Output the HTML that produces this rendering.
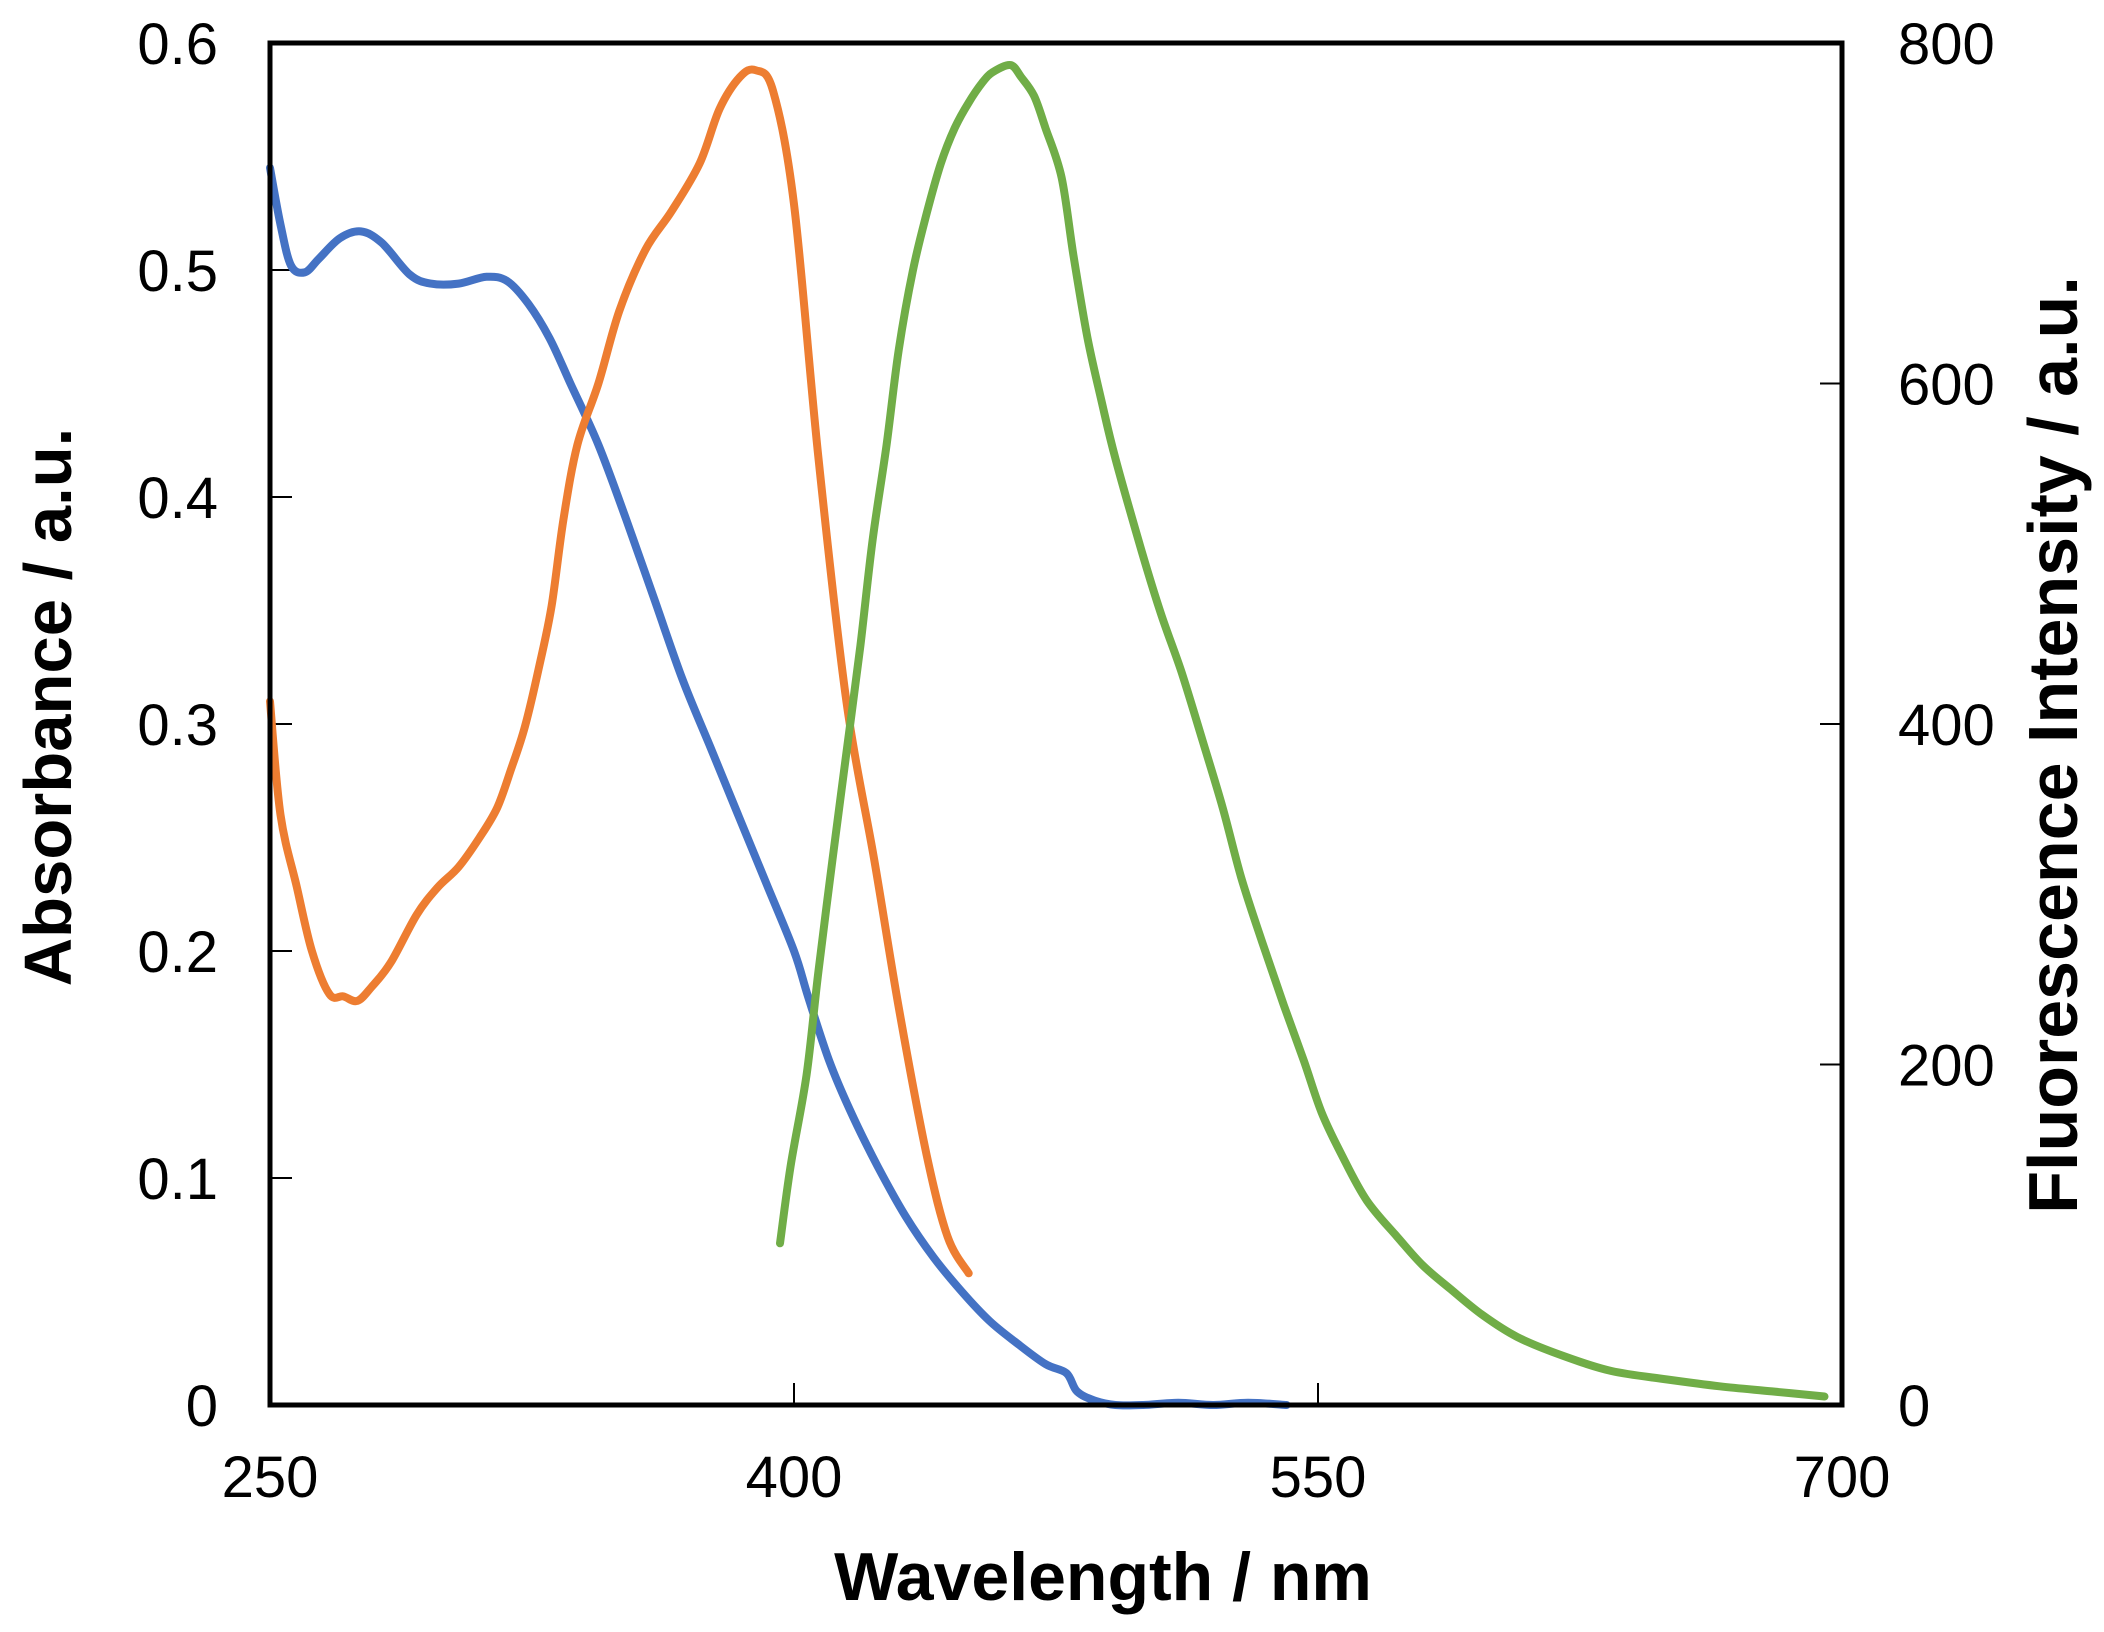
<!DOCTYPE html>
<html><head><meta charset="utf-8"><style>
html,body{margin:0;padding:0;background:#fff;}
svg{display:block;font-family:"Liberation Sans",Arial,sans-serif;}
</style></head><body>
<svg id="chart" width="2104" height="1632" viewBox="0 0 2104 1632" xmlns="http://www.w3.org/2000/svg">
<g id="ticks"></g>
<g id="series"></g>
<rect x="270" y="43" width="1572" height="1362" fill="none" stroke="#000" stroke-width="5"/>
<text x="1103" y="1600" font-size="68" font-weight="bold" text-anchor="middle">Wavelength / nm</text>
<text transform="translate(71,707) rotate(-90)" font-size="67" font-weight="bold" text-anchor="middle">Absorbance / a.u.</text>
<text transform="translate(2077,745) rotate(-90)" font-size="70" font-weight="bold" text-anchor="middle">Fluorescence Intensity / a.u.</text>
</svg>
<script>
const xTicks = [250, 400, 550, 700];
const yLeftTicks = [0, 0.1, 0.2, 0.3, 0.4, 0.5, 0.6];
const yLeftLabels = ["0", "0.1", "0.2", "0.3", "0.4", "0.5", "0.6"];
const yRightTicks = [0, 200, 400, 600, 800];
const blueX = [250,253,256,260,264,270,276,282,290,296,304,312,318,324,330,336,344,352,360,368,376,384,392,400,404,410,416,424,432,440,448,456,464,472,478,481,486,492,500,510,520,530,541];
const blueY = [.545,.52,.502,.499,.505,.514,.517,.512,.498,.494,.494,.497,.495,.485,.47,.45,.423,.39,.355,.32,.29,.26,.23,.2,.18,.152,.13,.105,.083,.065,.05,.037,.027,.018,.014,.006,.002,0,0,.001,0,.001,0];
const orangeX = [250,253,257.7,262,267,271,275,279,284.6,292,298,304,310,315,319,323,327,330.6,334,338,344,350,357.5,365,373,378.7,384.5,389,394,400,407,415,423,430,438,444,450];
const orangeY = [.31,.26,.228,.2,.181,.18,.178,.184,.195,.216,.228,.237,.25,.263,.28,.299,.325,.352,.39,.423,.45,.482,.509,.526,.547,.571,.585,.588,.579,.529,.417,.31,.24,.175,.11,.074,.058];
const greenX = [396,399,403.6,407,411,415,419,422.5,426.5,430,434,438,442,446,450,454,457,462,465,468.7,472,476.6,480,484,488,492,499.6,505,511,517,522.7,528,534,540,546,551,557,564,572.6,580,588,597,607,620,634,650,665,680,695];
const greenY = [95,140,194,255,320,383,446,508,564,620,666,700,729,750,765,777,783,787,780,769,750,721,675,627,590,556,501,465,430,390,351,310,272,236,202,172,146,120,99,82,68,53,40,29,20,15,11,8,5];
const X0=270, X1=1842, Y0=1405, Y1=43;
const xs = v => X0 + (v-250)/(700-250)*(X1-X0);
const yl = v => Y0 - v/0.6*(Y0-Y1);
const yr = v => Y0 - v/800*(Y0-Y1);
const NS="http://www.w3.org/2000/svg";
const tg=document.getElementById('ticks'), sg=document.getElementById('series');
function mk(tag, attrs, parent, txt){const e=document.createElementNS(NS,tag);for(const k in attrs)e.setAttribute(k,attrs[k]);if(txt!==undefined)e.textContent=txt;parent.appendChild(e);return e;}
xTicks.forEach(t=>{
  const l=mk('line',{x1:xs(t),x2:xs(t),y1:Y0,y2:Y0-22,stroke:'#000','stroke-width':2},tg);
  
  
  const tx=mk('text',{x:xs(t),y:1497,'font-size':58,'text-anchor':'middle'},tg,String(t));
  
  
});
yLeftTicks.forEach((t,i)=>{
  const l=mk('line',{x1:X0,x2:X0+22,y1:yl(t),y2:yl(t),stroke:'#000','stroke-width':2},tg);
  
  
  const tx=mk('text',{x:218,y:yl(t)+21,'font-size':58,'text-anchor':'end'},tg,yLeftLabels[i]);
  
  
});
yRightTicks.forEach(t=>{
  const l=mk('line',{x1:X1-22,x2:X1,y1:yr(t),y2:yr(t),stroke:'#000','stroke-width':2},tg);
  
  
  const tx=mk('text',{x:1898,y:yr(t)+21,'font-size':58,'text-anchor':'start'},tg,String(t));
  
  
});
function line(xa, ya, yf, color){
  const p = xa.map((x,i)=>[xs(x), yf(ya[i])]);
  let d = 'M'+p[0][0].toFixed(1)+','+p[0][1].toFixed(1);
  for(let i=0;i<p.length-1;i++){
    const p0=p[Math.max(i-1,0)], p1=p[i], p2=p[i+1], p3=p[Math.min(i+2,p.length-1)];
    const c1=[p1[0]+(p2[0]-p0[0])/6, p1[1]+(p2[1]-p0[1])/6];
    const c2=[p2[0]-(p3[0]-p1[0])/6, p2[1]-(p3[1]-p1[1])/6];
    d+=' C'+c1[0].toFixed(1)+','+c1[1].toFixed(1)+' '+c2[0].toFixed(1)+','+c2[1].toFixed(1)+' '+p2[0].toFixed(1)+','+p2[1].toFixed(1);
  }
  return mk('path',{d:d,fill:'none',stroke:color,'stroke-width':8,'stroke-linejoin':'round','stroke-linecap':'round'},sg);
}
const pb=line(blueX,blueY,yl,'#4472c4');


const po=line(orangeX,orangeY,yl,'#ed7d31');


const pg=line(greenX,greenY,yr,'#70ad47');


</script>
</body></html>
